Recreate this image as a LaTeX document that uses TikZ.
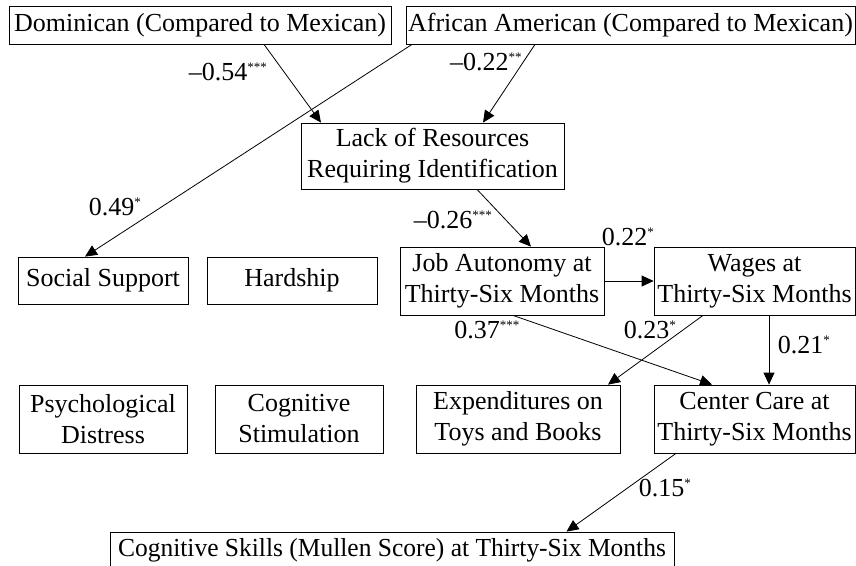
\documentclass[tikz,border=0pt]{standalone}
\usepackage{fontspec}
\setmainfont{Liberation Serif}
\usetikzlibrary{arrows.meta}
\tikzset{every path/.style={black, line width=0.8pt},
  box/.style={draw, rectangle, inner sep=0pt, align=center, font=\fontsize{26}{31}\selectfont},
  lbl/.style={inner sep=0pt, font=\fontsize{26}{31}\selectfont},
  link/.style={-{Triangle[length=12pt,width=11pt]}}}
\newcommand{\sig}[1]{\textsuperscript{\fontsize{13}{13}\selectfont#1}}

\begin{document}
\begin{tikzpicture}[x=1pt, y=-1pt]
   \useasboundingbox (0,0) rectangle (856,565);
   % variables
   \node[box, minimum width=382pt, minimum height=38pt] (dom)   at (200.0, 25.0) {Dominican (Compared to Mexican)};
   \node[box, minimum width=449pt, minimum height=38pt] (afr)   at (630.5, 25.0) {African American (Compared to Mexican)};
   \node[box, minimum width=263pt, minimum height=66pt] (lack)  at (432.5,156.0) {Lack of Resources\\Requiring Identification};
   \node[box, minimum width=170pt, minimum height=47pt] (soc)   at (103.0,280.5) {Social Support};
   \node[box, minimum width=170pt, minimum height=47pt] (hard)  at (292.0,280.5) {Hardship};
   \node[box, minimum width=204pt, minimum height=68pt] (job)   at (502.0,281.0) {Job Autonomy at\\Thirty-Six Months};
   \node[box, minimum width=201pt, minimum height=68pt] (wage)  at (754.5,281.0) {Wages at\\Thirty-Six Months};
   \node[box, minimum width=168pt, minimum height=68pt] (psy)   at (103.0,419.0) {Psychological\\Distress};
   \node[box, minimum width=168pt, minimum height=68pt] (stim)  at (299.0,419.0) {Cognitive\\Stimulation};
   \node[box, minimum width=204pt, minimum height=68pt] (toys)  at (518.0,419.0) {Expenditures on\\Toys and Books};
   \node[box, minimum width=201pt, minimum height=68pt] (care)  at (754.5,419.0) {Center Care at\\Thirty-Six Months};
   \node[box, minimum width=564pt, minimum height=36pt] (cog)   at (392.0,550.0) {\scalebox{0.98}[1]{Cognitive Skills (Mullen Score) at Thirty-Six Months}};
   % paths
   \draw[link] ([xshift=64pt]dom.south)     -- ([xshift=-111.5pt]lack.north);
   \draw[link] ([xshift=-218.5pt]afr.south) -- ([xshift=-18pt]soc.north);
   \draw[link] ([xshift=-95.5pt]afr.south)  -- ([xshift=50.5pt]lack.north);
   \draw[link] ([xshift=44.5pt]lack.south)  -- ([xshift=29pt]job.north);
   \draw[link] (job.east)                   -- (wage.west);
   \draw[link] ([xshift=11pt]job.south)     -- ([xshift=-42.5pt]care.north);
   \draw[link] ([xshift=-51.5pt]wage.south) -- ([xshift=90pt]toys.north);
   \draw[link] ([xshift=14.5pt]wage.south)  -- ([xshift=14.5pt]care.north);
   \draw[link] ([xshift=-78.5pt]care.south) -- ([xshift=174.5pt]cog.north);
   % coefficients
   \node[lbl] (c1) at (228, 72) {--0.54\sig{***}};
   \node[lbl] (c2) at (486, 62) {--0.22\sig{**}};
   \node[lbl] (c3) at (115,207) {0.49\sig{*}};
   \node[lbl] (c4) at (453,220) {--0.26\sig{***}};
   \node[lbl] (c5) at (628,237) {0.22\sig{*}};
   \node[lbl] (c6) at (487,330) {0.37\sig{***}};
   \node[lbl] (c7) at (650,330) {0.23\sig{*}};
   \node[lbl] (c8) at (804,345) {0.21\sig{*}};
   \node[lbl] (c9) at (665,488) {0.15\sig{*}};
\end{tikzpicture}
\end{document}
